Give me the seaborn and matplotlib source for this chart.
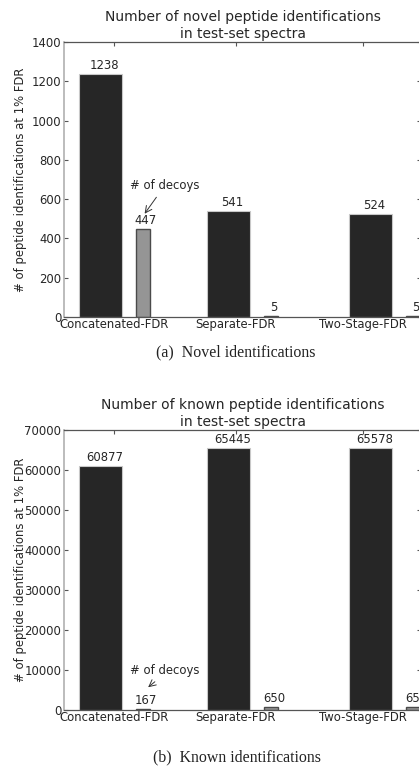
import numpy as np
import pandas as pd
import matplotlib
matplotlib.use("Agg")
import matplotlib.pyplot as plt
import seaborn as sns

# ---- data ----
categories = ["Concatenated-FDR", "Separate-FDR", "Two-Stage-FDR"]
novel_targets = [1238, 541, 524]
novel_decoys = [447, 5, 5]
known_targets = [60877, 65445, 65578]
known_decoys = [167, 650, 655]

# ---- layout ----
target_pos = [0.307, 1.383, 2.576]
decoy_pos = [0.664, 1.740, 2.933]
tick_pos = [0.42, 1.445, 2.513]

sns.set_theme(style="white")
plt.rcParams["font.family"] = ["DejaVu Sans"]
TXT = "#262626"
FS = 8.4

fig = plt.figure(figsize=(4.19, 7.69), dpi=100)
W, H = 419, 769


def axes_px(left, top, right, bottom):
    return fig.add_axes([left / W, 1 - bottom / H, (right - left) / W, (bottom - top) / H])


def panel(ax, targets, decoys, ymax, yticks, title, arrow_head, arrow_tail):
    spacing = np.min(np.diff(target_pos))
    dft = pd.DataFrame({"pos": target_pos, "count": targets})
    dfd = pd.DataFrame({"pos": decoy_pos, "count": decoys})
    sns.barplot(data=dft, x="pos", y="count", native_scale=True, width=0.361 / spacing,
                color="#262626", saturation=1, edgecolor="#c8c8c8", linewidth=0.8,
                errorbar=None, ax=ax)
    sns.barplot(data=dfd, x="pos", y="count", native_scale=True, width=0.118 / spacing,
                color="#959595", saturation=1, edgecolor="#4a4a4a", linewidth=1.0,
                errorbar=None, ax=ax)
    ax.set_xlim(0, 3.0)
    ax.set_ylim(0, ymax)
    ax.set_yticks(yticks)
    ax.set_yticklabels([str(v) for v in yticks], fontsize=FS, color=TXT)
    ax.set_xticks(tick_pos)
    ax.set_xticklabels(categories, fontsize=FS, color=TXT)
    ax.set_xlabel("")
    ax.set_ylabel("# of peptide identifications at 1% FDR", fontsize=FS, color=TXT)
    ax.yaxis.set_label_coords(-0.103, 0.5)
    ax.tick_params(axis="both", direction="in", length=3, width=0.8, color="#555555",
                   top=True, right=True, bottom=False, left=True)
    ax.tick_params(axis="x", pad=1)
    ax.tick_params(axis="y", pad=2)
    for s in ["top", "bottom", "right"]:
        ax.spines[s].set_color("#555555")
        ax.spines[s].set_linewidth(0.9)
    ax.spines["left"].set_color("#b0b0b0")
    ax.spines["left"].set_linewidth(1.2)
    ax.set_title(title, fontsize=10, color=TXT, pad=3, linespacing=1.25)
    for x, v in zip(target_pos, targets):
        ax.annotate(str(v), (x, v), xytext=(4, 2), textcoords="offset pixels",
                    ha="center", va="bottom", fontsize=FS, color=TXT)
    for x, v in zip(decoy_pos, decoys):
        ax.annotate(str(v), (x, v), xytext=(3, 2), textcoords="offset pixels",
                    ha="center", va="bottom", fontsize=FS, color=TXT, annotation_clip=False)
    ax.annotate("", xy=arrow_head, xytext=arrow_tail, xycoords="axes fraction",
                arrowprops=dict(arrowstyle="->", color="#333333", lw=0.7))
    ax.annotate("# of decoys", xy=(0.281, arrow_tail[1] + 0.0), xycoords="axes fraction",
                xytext=(0, 3), textcoords="offset pixels",
                ha="center", va="bottom", fontsize=FS, color=TXT)


ax1 = axes_px(64, 42, 421, 317)
panel(ax1, novel_targets, novel_decoys, 1400, [0, 200, 400, 600, 800, 1000, 1200, 1400],
      "Number of novel peptide identifications\nin test-set spectra",
      arrow_head=((143 - 64) / 357, (317 - 216) / 275),
      arrow_tail=((158 - 64) / 357, (317 - 195) / 275))

ax2 = axes_px(64, 430, 421, 710)
panel(ax2, known_targets, known_decoys, 70000,
      [0, 10000, 20000, 30000, 40000, 50000, 60000, 70000],
      "Number of known peptide identifications\nin test-set spectra",
      arrow_head=((146 - 64) / 357, (710 - 689) / 280),
      arrow_tail=((157 - 64) / 357, (710 - 680) / 280))

fig.text(236 / W, 1 - 352 / H, "(a)  Novel identifications", ha="center", va="center",
         fontsize=11.4, family="Liberation Serif", color="#222222")
fig.text(237 / W, 1 - 757 / H, "(b)  Known identifications", ha="center", va="center",
         fontsize=11.4, family="Liberation Serif", color="#222222")

fig.savefig("out.png", dpi=100)
